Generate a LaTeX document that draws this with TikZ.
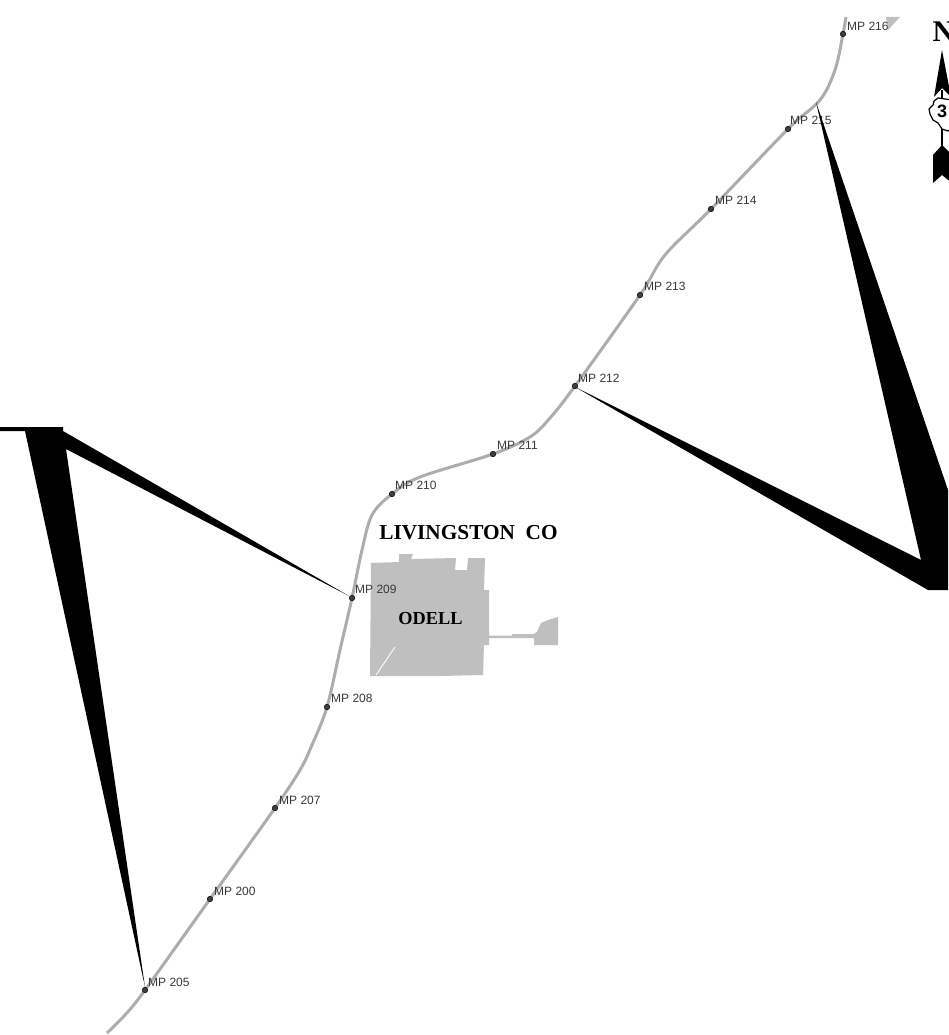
\documentclass[tikz,border=0pt]{standalone}
\usepackage{fontspec}
\setmainfont{Liberation Serif}
\newfontfamily\lsans{Liberation Sans}
\definecolor{road}{gray}{0.68}
\definecolor{town}{gray}{0.75}
\definecolor{mark}{gray}{0.25}
\tikzset{
  x=1pt,y=-1pt,
  mpdot/.style={circle,fill=mark,draw=black,line width=0.5pt,inner sep=0pt,minimum size=5.5pt},
  mplabel/.style={font=\lsans\fontsize{12}{12}\selectfont,text=black!78,inner sep=0pt,anchor=west},
  placelabel/.style={font=\bfseries\fontsize{21.3}{22}\selectfont,inner sep=0pt,text=black},
  wedge/.style={fill=black,draw=none},
}
\begin{document}
\begin{tikzpicture}
\useasboundingbox (0,0) rectangle (948,1035);
\fill[white] (0,0) rectangle (948,1035);
% town
\fill[town] (371,563) -- (399,562) -- (399,554) -- (413,554) -- (411,559) -- (456,558) -- (455,570) -- (467,570) -- (468,558) -- (485,558) -- (484,590) -- (489,590) -- (489,645) -- (484,645) -- (483,675) -- (440,676) -- (370,676) -- cycle;
\fill[town] (489,635.5) -- (512,635.5) -- (512,634) -- (534,634) -- (537,632) -- (541,623) -- (548,620) -- (558,617) -- (558,645) -- (534,645) -- (534,638) -- (489,638) -- cycle;
\draw[white,line width=0.9pt] (395,647) -- (376,675);
\fill[town] (886,17) -- (900,17) -- (888,30) -- cycle;
% road
\draw[road,line width=3pt,line join=round]
  plot[smooth,tension=0.55] coordinates {(107,1033) (125,1015) (145,990) (210,899) (275,808) (300,770) (312,745) (327,707) (340,650) (352,598) (362,550) (372,515) (392,494) (420,477) (493,454) (530,437) (550,418) (575,386) (640,295) (665,255) (711,209) (788,129) (820,100) (835,70) (843,34) (846,17)};
% mileposts
\node[mpdot] (m205) at (145,990) {};
\node[mpdot] (m200) at (210,899) {};
\node[mpdot] (m207) at (275,808) {};
\node[mpdot] (m208) at (327,707) {};
\node[mpdot] (m209) at (352,598) {};
\node[mpdot] (m210) at (392,494) {};
\node[mpdot] (m211) at (493,454) {};
\node[mpdot] (m212) at (575,386) {};
\node[mpdot] (m213) at (640,295) {};
\node[mpdot] (m214) at (711,209) {};
\node[mpdot] (m215) at (788,129) {};
\node[mpdot] (m216) at (843,34) {};
\node[mplabel] (t205) at (148,982) {MP 205};
\node[mplabel] (t200) at (214,891) {MP 200};
\node[mplabel] (t207) at (279,800) {MP 207};
\node[mplabel] (t208) at (331,698) {MP 208};
\node[mplabel] (t209) at (355,589) {MP 209};
\node[mplabel] (t210) at (395,485) {MP 210};
\node[mplabel] (t211) at (497,445) {MP 211};
\node[mplabel] (t212) at (578,378) {MP 212};
\node[mplabel] (t213) at (644,286) {MP 213};
\node[mplabel] (t214) at (715,200) {MP 214};
\node[mplabel] (t215) at (790,120) {MP 215};
\node[mplabel] (t216) at (847,26) {MP 216};
% callout wedges
\fill[wedge] (145,987) -- (25,431) -- (0,431) -- (0,427) -- (63,427) -- (63,431) -- (349,596) -- (66,449) -- cycle;
\fill[wedge] (816,102) -- (948,490) -- (948,590) -- (928,590) -- (575,387) -- (921,560) -- cycle;
% labels
\node[placelabel,anchor=center] (lco) at (468.5,533) {LIVINGSTON\ \ CO};
\node[placelabel,anchor=center,font=\bfseries\fontsize{18.3}{19}\selectfont] (ode) at (430.5,619) {ODELL};
% north arrow
\node[font=\bfseries\fontsize{30}{30}\selectfont,inner sep=0pt,anchor=west] (north) at (932.5,32) {N};
\draw[black,line width=1.2pt] (942,90) -- (942,148);
\fill[black] (942,50) -- (951,97) -- (942,88) -- (934,97) -- cycle;
\fill[black] (942,145) -- (952,155) -- (952,183) -- (942,175) -- (933,183) -- (933,155) -- cycle;
\draw[black,line width=1.2pt,fill=white,line join=round] (938,98) -- (952,100) -- (952,128) -- (948,131) -- (942,129) -- (938,123) -- (933,120) -- (930,114) -- (929,109) -- (933,105) -- (934,101) -- cycle;
\node[font=\lsans\bfseries\fontsize{18}{18}\selectfont,inner sep=0pt] (shield) at (942,111) {3};
\end{tikzpicture}
\end{document}
